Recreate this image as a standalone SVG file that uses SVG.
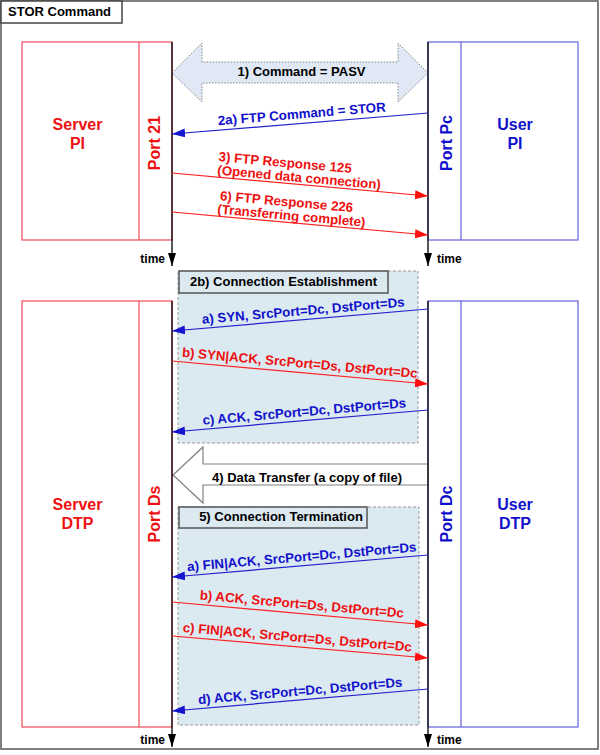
<svg xmlns="http://www.w3.org/2000/svg" width="600" height="755" viewBox="0 0 600 755">
<style>
text{font-family:"Liberation Sans",Arial,sans-serif;font-weight:bold}
.msg{font-size:13.3px}
.lbl{font-size:13px;fill:#000}
.big{font-size:16px}
.red{fill:#ee1111}
.blue{fill:#1111cc}
.sbox{fill:none;stroke:#ee4a5a;stroke-width:1.2}
.ubox{fill:none;stroke:#6262dd;stroke-width:1.2}
.life{stroke:#000;stroke-width:1.3}
.rl{stroke:#ff2020;stroke-width:1.2;fill:none;marker-end:url(#ar)}
.bl{stroke:#2222cc;stroke-width:1.2;fill:none;marker-end:url(#ab)}
.dash{fill:#dbe9f1;stroke:#999;stroke-width:1;stroke-dasharray:3 2}
.tbox{fill:#dde9f0;stroke:#555;stroke-width:1.5}
.time{font-size:12px;fill:#000}
</style>
<defs>
<marker id="ar" markerUnits="userSpaceOnUse" markerWidth="13" markerHeight="9" viewBox="0 0 13 9" refX="13" refY="4.5" orient="auto"><path d="M0,0 L13,4.5 L0,9 z" fill="#ff1010"/></marker>
<marker id="ab" markerUnits="userSpaceOnUse" markerWidth="13" markerHeight="9" viewBox="0 0 13 9" refX="13" refY="4.5" orient="auto"><path d="M0,0 L13,4.5 L0,9 z" fill="#1515d0"/></marker>
<marker id="at" markerUnits="userSpaceOnUse" markerWidth="13" markerHeight="8" viewBox="0 0 13 8" refX="13" refY="4" orient="auto"><path d="M0,0 L13,4 L0,8 z" fill="#000"/></marker>
</defs>
<rect x="1" y="1" width="597" height="748" fill="#fff" stroke="#555" stroke-width="1.5"/>
<g id="title"><rect x="1" y="1" width="121" height="22" fill="#fff" stroke="#444" stroke-width="1.5"/><text x="8" y="16" class="lbl">STOR Command</text></g>

<g id="conn-est"><rect x="178" y="271" width="240" height="172" class="dash"/><rect x="179" y="271" width="209" height="22" class="tbox"/><text x="283.5" y="286" class="lbl" text-anchor="middle">2b) Connection Establishment</text></g>
<g id="conn-term"><rect x="178" y="507" width="241" height="218" class="dash"/><rect x="179" y="507" width="188" height="21" class="tbox"/><text x="281" y="521" class="lbl" text-anchor="middle">5) Connection Termination</text></g>

<g id="server-pi"><rect x="22" y="42" width="150" height="198" class="sbox"/><line x1="139" y1="42" x2="139" y2="240" class="sbox"/>
<text x="77.5" y="130" class="big red" text-anchor="middle">Server</text><text x="77.5" y="149" class="big red" text-anchor="middle">PI</text>
<text x="160" y="143" class="big red" text-anchor="middle" transform="rotate(-90 160 143)">Port 21</text></g>
<g id="user-pi"><rect x="428" y="42" width="150" height="198" class="ubox"/><line x1="461" y1="42" x2="461" y2="240" class="ubox"/>
<text x="515" y="130" class="big blue" text-anchor="middle">User</text><text x="515" y="149" class="big blue" text-anchor="middle">PI</text>
<text x="451.5" y="143" class="big blue" text-anchor="middle" transform="rotate(-90 451.5 143)">Port Pc</text></g>
<g id="server-dtp"><rect x="22" y="301" width="150" height="426" class="sbox"/><line x1="139" y1="301" x2="139" y2="727" class="sbox"/>
<text x="77.5" y="509.5" class="big red" text-anchor="middle">Server</text><text x="77.5" y="528.5" class="big red" text-anchor="middle">DTP</text>
<text x="160" y="514" class="big red" text-anchor="middle" transform="rotate(-90 160 514)">Port Ds</text></g>
<g id="user-dtp"><rect x="428" y="301" width="150" height="426" class="ubox"/><line x1="461" y1="301" x2="461" y2="727" class="ubox"/>
<text x="515" y="509.5" class="big blue" text-anchor="middle">User</text><text x="515" y="528.5" class="big blue" text-anchor="middle">DTP</text>
<text x="451.5" y="514" class="big blue" text-anchor="middle" transform="rotate(-90 451.5 514)">Port Dc</text></g>

<g id="cmd-pasv"><polygon points="172,73 202,43 202,62 398,62 398,43 428,73 398,102 398,83 202,83 202,102" fill="#dfe8f4" stroke="#888" stroke-width="1" stroke-dasharray="1.5 1.5"/><text x="301.5" y="76" class="lbl" text-anchor="middle">1) Command = PASV</text></g>
<g id="data-transfer"><polygon points="173,475 203,447 203,464 428,464 428,485 203,485 203,503" fill="#fff" stroke="#808080" stroke-width="1.2"/><text x="307" y="481.5" class="lbl" text-anchor="middle">4) Data Transfer (a copy of file)</text></g>

<g id="lifelines">
<line x1="172" y1="42" x2="172" y2="266" class="life" marker-end="url(#at)"/>
<line x1="428" y1="42" x2="428" y2="266" class="life" marker-end="url(#at)"/>
<line x1="172" y1="301" x2="172" y2="747" class="life" marker-end="url(#at)"/>
<line x1="428" y1="301" x2="428" y2="747" class="life" marker-end="url(#at)"/>
<text x="165" y="263" class="time" text-anchor="end">time</text><text x="437" y="263" class="time">time</text>
<text x="165" y="744" class="time" text-anchor="end">time</text><text x="437" y="744" class="time">time</text>
</g>

<g id="connectors">
<line x1="428" y1="113" x2="172" y2="134" class="bl"/>
<text x="302.5" y="118.5" class="msg blue" text-anchor="middle" transform="rotate(-4.69 300 123.5)">2a) FTP Command = STOR</text>
<line x1="172" y1="173" x2="428" y2="196" class="rl"/>
<g transform="rotate(5.13 300 184.5)"><text x="216.5" y="168.5" class="msg red">3) FTP Response 125</text><text x="216.5" y="182" class="msg red">(Opened data connection)</text></g>
<line x1="172" y1="212" x2="428" y2="235" class="rl"/>
<g transform="rotate(5.13 300 223.5)"><text x="218" y="207.5" class="msg red">6) FTP Response 226</text><text x="216.5" y="221" class="msg red">(Transferring complete)</text></g>

<line x1="428" y1="309" x2="172" y2="331" class="bl"/>
<text x="304" y="315.5" class="msg blue" text-anchor="middle" transform="rotate(-4.91 300 320)">a) SYN, SrcPort=Dc, DstPort=Ds</text>
<line x1="172" y1="361" x2="428" y2="384" class="rl"/>
<text x="299" y="367.5" class="msg red" text-anchor="middle" transform="rotate(5.13 300 372.5)">b) SYN|ACK, SrcPort=Ds, DstPort=Dc</text>
<line x1="428" y1="410" x2="172" y2="432" class="bl"/>
<text x="305" y="416.5" class="msg blue" text-anchor="middle" transform="rotate(-4.91 300 421)">c) ACK, SrcPort=Dc, DstPort=Ds</text>

<line x1="428" y1="555" x2="172" y2="577" class="bl"/>
<text x="302.5" y="561.5" class="msg blue" text-anchor="middle" transform="rotate(-4.91 300 566)">a) FIN|ACK, SrcPort=Dc, DstPort=Ds</text>
<line x1="172" y1="602" x2="428" y2="625" class="rl"/>
<text x="301" y="608.5" class="msg red" text-anchor="middle" transform="rotate(5.13 300 613.5)">b) ACK, SrcPort=Ds, DstPort=Dc</text>
<line x1="172" y1="636" x2="428" y2="658" class="rl"/>
<text x="296.5" y="642" class="msg red" text-anchor="middle" transform="rotate(4.91 300 647)">c) FIN|ACK, SrcPort=Ds, DstPort=Dc</text>
<line x1="428" y1="689" x2="172" y2="711" class="bl"/>
<text x="301" y="695.5" class="msg blue" text-anchor="middle" transform="rotate(-4.91 300 700)">d) ACK, SrcPort=Dc, DstPort=Ds</text>
</g>
</svg>
